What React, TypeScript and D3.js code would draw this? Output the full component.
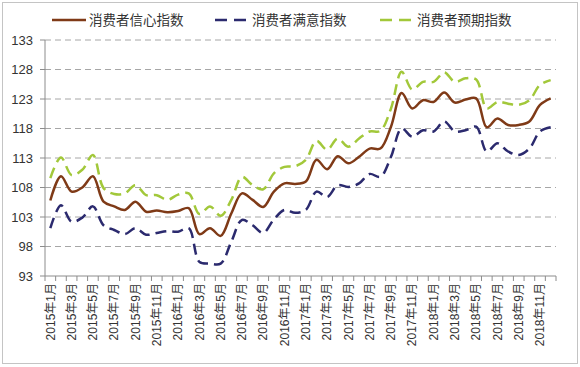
import React from "react"
import * as d3 from "d3"

// 2015年1月 .. 2018年12月, one value per month
const months: string[] = []
for (let y = 2015; y <= 2018; y++) {
  for (let m = 1; m <= 12; m++) months.push(`${y}年${m}月`)
}

const confidence = [
  105.8, 109.9, 107.3, 108.0, 109.9, 105.6, 104.8, 104.2, 105.6, 103.9, 104.1, 103.8,
  104.0, 104.5, 100.1, 101.1, 99.8, 103.6, 107.0, 105.9, 104.7, 107.3, 108.7, 108.6,
  109.0, 112.7, 111.1, 113.3, 112.1, 113.2, 114.6, 114.6, 118.3, 124.0, 121.4, 122.8,
  122.5, 124.1, 122.4, 122.9, 123.1, 118.2, 119.7, 118.6, 118.6, 119.2, 122.0, 123.1
]
const satisfaction = [
  101.1, 105.0, 102.2, 102.9, 104.8, 101.6, 100.8, 100.1, 101.1, 100.0, 100.3, 100.6,
  100.5, 101.1, 95.4, 95.1, 95.1, 98.8, 102.5, 101.6, 100.3, 102.6, 104.2, 103.7,
  104.2, 107.3, 106.4, 108.4, 108.1, 108.7, 110.3, 109.8, 113.2, 118.0, 116.6, 117.7,
  117.5, 119.2, 117.5, 117.7, 118.3, 114.1, 115.5, 114.1, 113.5, 114.6, 117.5, 118.2
]
const expectation = [
  109.6, 113.1, 110.1, 111.0, 113.5, 107.9, 106.9, 107.0, 108.4, 106.7, 106.7, 105.9,
  106.8, 107.0, 103.5, 104.8, 103.2, 105.9, 109.8, 108.4, 107.7, 110.4, 111.5, 111.6,
  112.7, 115.9, 114.4, 116.3, 114.9, 116.3, 117.5, 117.6, 121.4, 127.6, 124.6, 125.9,
  125.9, 127.5, 125.9, 126.5, 126.3, 121.4, 122.5, 122.2, 122.0, 122.8, 125.4, 126.2
]
const yTicks = [93, 98, 103, 108, 113, 118, 123, 128, 133]

const series = [
  { name: "消费者信心指数", values: confidence, color: "#7f3a17", dash: "" },
  { name: "消费者满意指数", values: satisfaction, color: "#2b2a6e", dash: "11,6" },
  { name: "消费者预期指数", values: expectation, color: "#a2c83a", dash: "11,6" }
]

const W = 580
const H = 367
const left = 45
const right = 556
const top = 40
const bottom = 276

export default function App() {
  const x = d3.scaleBand<string>().domain(months).range([left, right])
  const y = d3.scaleLinear().domain([93, 133]).range([bottom, top])
  const line = (vals: number[]) =>
    d3
      .line<number>()
      .x((_, i) => x(months[i])! + x.bandwidth() / 2)
      .y(d => y(d))
      .curve(d3.curveCatmullRom.alpha(0.5))(vals)

  const legendX = [52, 215, 380]
  const font = "'Liberation Sans', 'Noto Sans CJK SC', sans-serif"

  return (
    <div style={{ position: "absolute", left: 0, top: 0 }}>
      <svg width={W} height={H} style={{ display: "block", fontFamily: font }}>
        <rect x={0} y={0} width={W} height={H} fill="#fff" />
        <rect x={2.5} y={2.5} width={575} height={361} fill="none" stroke="#c4c4c4" />

        {/* gridlines and y ticks */}
        {yTicks.map(t => (
          <g key={t}>
            {t > 93 && (
              <line x1={left} x2={right} y1={y(t)} y2={y(t)} stroke="#a6a6a6" strokeDasharray="6,4" />
            )}
            <line x1={left - 5} x2={left} y1={y(t)} y2={y(t)} stroke="#8c8c8c" />
            <text x={33} y={y(t)} dy="0.35em" textAnchor="end" fontSize={13} fill="#333">
              {t}
            </text>
          </g>
        ))}

        {/* axes */}
        <line x1={left} x2={left} y1={top} y2={bottom} stroke="#8c8c8c" />
        <line x1={left} x2={right} y1={bottom} y2={bottom} stroke="#8c8c8c" />
        {months.map((m, i) => (
          <line key={m} x1={x(m)!} x2={x(m)!} y1={bottom} y2={bottom + 5} stroke="#8c8c8c" />
        ))}
        <line x1={right} x2={right} y1={bottom} y2={bottom + 5} stroke="#8c8c8c" />
        {months.map((m, i) =>
          i % 2 === 0 ? (
            <text
              key={m}
              transform={`translate(${x(m)! + x.bandwidth() / 2},${bottom + 7}) rotate(-90)`}
              dy="0.35em"
              textAnchor="end"
              fontSize={12}
              fill="#333"
            >
              {m}
            </text>
          ) : null
        )}

        {/* lines */}
        {series.map(s => (
          <path
            key={s.name}
            d={line(s.values) || ""}
            fill="none"
            stroke={s.color}
            strokeWidth={2.5}
            strokeDasharray={s.dash || undefined}
          />
        ))}

        {/* legend */}
        {series.map((s, i) => (
          <g key={s.name} transform={`translate(${legendX[i]},20)`}>
            <line x1={0} x2={34} y1={0} y2={0} stroke={s.color} strokeWidth={2.5} strokeDasharray={s.dash ? "12,7" : undefined} />
            <text x={37} dy="0.35em" fontSize={13.5} fill="#333">
              {s.name}
            </text>
          </g>
        ))}
      </svg>
    </div>
  )
}
